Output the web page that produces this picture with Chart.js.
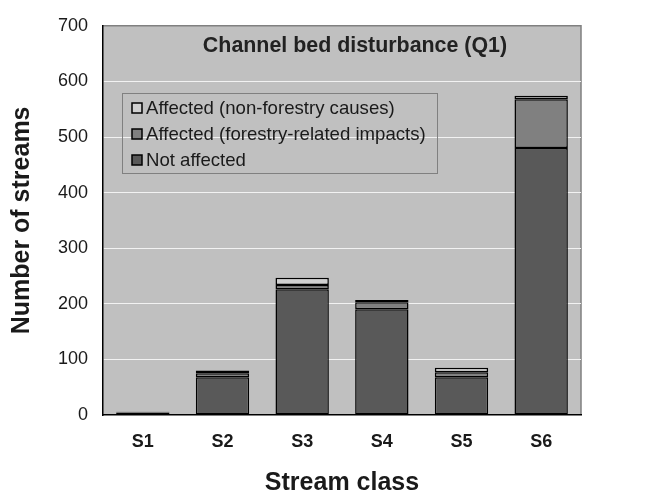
<!DOCTYPE html>
<html lang="en">
<head>
    <meta charset="UTF-8">
    <title>Channel bed disturbance (Q1)</title>
    <script src="https://cdn.jsdelivr.net/npm/chart.js"></script>
    <style>
        html, body { margin: 0; padding: 0; background: #ffffff; }
        .chart-container { width: 646px; height: 496px; }
    </style>
</head>
<body>
    <div class="chart-container">
        <canvas id="bedChart" width="646" height="496"></canvas>
    </div>

    <script>
        // Data
        const streamClasses = ['S1', 'S2', 'S3', 'S4', 'S5', 'S6'];
        const notAffected = [4, 68, 226, 190, 68, 480];
        const forestryImpacts = [1, 7, 8, 13, 9, 88];
        const nonForestryCauses = [1, 5, 13, 4, 8, 6];
        const yTicks = [0, 100, 200, 300, 400, 500, 600, 700];

        const FONT = 'Arial, "Liberation Sans", sans-serif';

        // Plot background, frame, inner title and legend (Excel style)
        const plotDecor = {
            id: 'plotDecor',
            beforeDraw(chart) {
                const { ctx, chartArea: a } = chart;
                ctx.save();
                ctx.fillStyle = '#c0c0c0';
                ctx.fillRect(a.left, a.top, a.right - a.left, a.bottom - a.top);
                ctx.strokeStyle = '#808080';
                ctx.lineWidth = 1.5;
                ctx.beginPath();
                ctx.moveTo(a.left, a.top);
                ctx.lineTo(a.right, a.top);
                ctx.lineTo(a.right, a.bottom);
                ctx.stroke();
                ctx.restore();
            },
            afterDraw(chart) {
                const { ctx } = chart;
                ctx.save();
                // title inside the plot
                ctx.fillStyle = '#222222';
                ctx.font = 'bold 21.4px ' + FONT;
                ctx.textAlign = 'center';
                ctx.textBaseline = 'middle';
                ctx.fillText('Channel bed disturbance (Q1)', 355, 46);

                // legend box
                const bx = 122, by = 93, bw = 315, bh = 80;
                ctx.strokeStyle = '#808080';
                ctx.lineWidth = 1;
                ctx.strokeRect(bx + 0.5, by + 0.5, bw, bh);

                const items = chart.data.datasets.slice().reverse();
                ctx.font = '18.6px ' + FONT;
                ctx.textAlign = 'left';
                items.forEach((ds, i) => {
                    const cy = 108 + i * 26;
                    ctx.fillStyle = ds.backgroundColor;
                    ctx.fillRect(132, cy - 5, 10, 10);
                    ctx.strokeStyle = '#000000';
                    ctx.lineWidth = 1.5;
                    ctx.strokeRect(132, cy - 5, 10, 10);
                    ctx.fillStyle = '#1a1a1a';
                    ctx.fillText(ds.label, 146, cy + 1);
                });
                ctx.restore();
            }
        };

        const ctx = document.getElementById('bedChart').getContext('2d');

        const barStyle = {
            borderColor: '#000000',
            borderWidth: 1.5,
            borderSkipped: false,
            categoryPercentage: 1,
            barPercentage: 0.67
        };

        const chart = new Chart(ctx, {
            type: 'bar',
            data: {
                labels: streamClasses,
                datasets: [
                    Object.assign({ label: 'Not affected', data: notAffected, backgroundColor: '#595959' }, barStyle),
                    Object.assign({ label: 'Affected (forestry-related impacts)', data: forestryImpacts, backgroundColor: '#808080' }, barStyle),
                    Object.assign({ label: 'Affected (non-forestry causes)', data: nonForestryCauses, backgroundColor: '#d0d0d0' }, barStyle)
                ]
            },
            options: {
                responsive: false,
                animation: false,
                devicePixelRatio: 1,
                layout: { padding: { top: 20, right: 65, left: 0, bottom: 0 } },
                plugins: {
                    legend: { display: false },
                    tooltip: { enabled: false }
                },
                scales: {
                    x: {
                        stacked: true,
                        afterFit(s) { s.height = 81; },
                        grid: { display: false, drawTicks: false },
                        border: { color: '#000000', width: 1.5 },
                        ticks: {
                            color: '#1a1a1a',
                            padding: 16,
                            font: { family: FONT, size: 18, weight: 'bold' }
                        },
                        title: {
                            display: true,
                            text: 'Stream class',
                            color: '#1a1a1a',
                            padding: { top: 0, bottom: 0 },
                            font: { family: FONT, size: 25, weight: 'bold', lineHeight: 1 }
                        }
                    },
                    y: {
                        stacked: true,
                        min: 0,
                        max: 700,
                        afterFit(s) { s.width = 103; },
                        afterBuildTicks(s) { s.ticks = yTicks.map(v => ({ value: v })); },
                        grid: {
                            drawTicks: false,
                            lineWidth: 1,
                            color: c => (c.tick.value === 0 || c.tick.value === 700) ? 'rgba(0,0,0,0)' : '#f2f2f2'
                        },
                        border: { color: '#000000', width: 1.5 },
                        ticks: {
                            color: '#1a1a1a',
                            padding: 15,
                            font: { family: FONT, size: 18 }
                        },
                        title: {
                            display: true,
                            text: 'Number of streams',
                            color: '#1a1a1a',
                            padding: { top: 7, bottom: 0 },
                            font: { family: FONT, size: 25, weight: 'bold', lineHeight: 1.2 }
                        }
                    }
                }
            },
            plugins: [plotDecor]
        });
    </script>
</body>
</html>
